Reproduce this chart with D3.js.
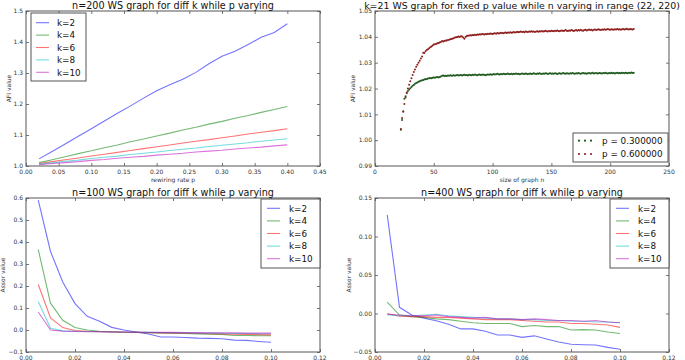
<!DOCTYPE html>
<html><head><meta charset="utf-8">
<script src="https://cdn.jsdelivr.net/npm/d3@7"></script>
<style>
html,body{margin:0;padding:0;background:#fff;}
svg{display:block;font-family:"DejaVu Sans",sans-serif;}
</style></head>
<body><svg id="c" width="685" height="360"></svg>
<script>
// ---------- DATA ----------
const kLabels = ["k=2","k=4","k=6","k=8","k=10"];
const kColors = ["#0000ff","#008000","#ff0000","#00bfbf","#bf00bf"];

// Panel 1: n=200, AFI vs rewiring rate p
const p200 = [0.02,0.04,0.06,0.08,0.10,0.12,0.14,0.16,0.18,0.20,0.22,0.24,0.26,0.28,0.30,0.32,0.34,0.36,0.38,0.40];
const afi200_k2  = [1.023,1.047,1.071,1.096,1.120,1.145,1.170,1.194,1.219,1.243,1.262,1.280,1.302,1.330,1.354,1.370,1.392,1.415,1.431,1.459];
const afi200_k4  = [1.011,1.020,1.030,1.040,1.049,1.059,1.068,1.078,1.087,1.097,1.106,1.116,1.125,1.135,1.144,1.154,1.163,1.173,1.182,1.192];
const afi200_k6  = [1.008,1.014,1.020,1.026,1.032,1.038,1.044,1.050,1.056,1.062,1.068,1.074,1.080,1.085,1.091,1.097,1.103,1.109,1.114,1.120];
const afi200_k8  = [1.006,1.010,1.015,1.019,1.024,1.028,1.032,1.037,1.041,1.045,1.050,1.054,1.058,1.063,1.067,1.071,1.075,1.080,1.084,1.088];
const afi200_k10 = [1.004,1.008,1.011,1.014,1.018,1.021,1.025,1.028,1.031,1.035,1.038,1.041,1.045,1.048,1.051,1.055,1.058,1.061,1.065,1.068];

// Panel 2: k=21, AFI vs size n (22..220)
const nStart = 22;
const afiP03 = [
1.0040,1.0078,1.0112,1.0160,1.0170,1.0182,1.0190,1.0196,1.0201,1.0206,
1.0211,1.0214,1.0218,1.0221,1.0223,1.0226,1.0228,1.0230,1.0232,1.0233,
1.0235,1.0237,1.0236,1.0239,1.0240,1.0241,1.0240,1.0242,1.0243,1.0242,
1.0244,1.0245,1.0243,1.0245,1.0246,1.0249,1.0250,1.0248,1.0249,1.0248,
1.0250,1.0249,1.0251,1.0249,1.0250,1.0251,1.0249,1.0251,1.0252,1.0250,
1.0251,1.0252,1.0250,1.0252,1.0253,1.0251,1.0252,1.0250,1.0253,1.0252,
1.0251,1.0253,1.0252,1.0254,1.0252,1.0251,1.0253,1.0254,1.0252,1.0253,
1.0254,1.0252,1.0251,1.0253,1.0254,1.0253,1.0255,1.0253,1.0254,1.0256,
1.0254,1.0255,1.0257,1.0255,1.0254,1.0256,1.0255,1.0257,1.0256,1.0255,
1.0256,1.0258,1.0255,1.0256,1.0257,1.0255,1.0257,1.0256,1.0258,1.0256,
1.0257,1.0255,1.0256,1.0258,1.0257,1.0256,1.0258,1.0257,1.0255,1.0257,
1.0258,1.0256,1.0257,1.0259,1.0257,1.0256,1.0258,1.0257,1.0259,1.0257,
1.0256,1.0258,1.0257,1.0259,1.0258,1.0256,1.0258,1.0259,1.0257,1.0258,
1.0257,1.0259,1.0258,1.0256,1.0258,1.0259,1.0257,1.0258,1.0260,1.0258,
1.0257,1.0259,1.0258,1.0257,1.0259,1.0258,1.0260,1.0258,1.0257,1.0259,
1.0258,1.0260,1.0258,1.0257,1.0259,1.0260,1.0258,1.0259,1.0257,1.0259,
1.0260,1.0258,1.0259,1.0261,1.0258,1.0259,1.0260,1.0258,1.0259,1.0260,
1.0259,1.0258,1.0260,1.0259,1.0261,1.0259,1.0258,1.0260,1.0259,1.0261,
1.0259,1.0260,1.0258,1.0260,1.0261,1.0259,1.0260,1.0259,1.0261,1.0260,
1.0259,1.0261,1.0260,1.0259,1.0261,1.0260,1.0262,1.0260,1.0261];
const afiP06 = [
1.0043,1.0086,1.0110,1.0140,1.0165,1.0185,1.0200,1.0215,1.0228,1.0240,
1.0252,1.0264,1.0274,1.0284,1.0292,1.0300,1.0307,1.0316,1.0324,1.0338,
1.0337,1.0344,1.0349,1.0352,1.0356,1.0360,1.0363,1.0366,1.0370,1.0371,
1.0372,1.0375,1.0376,1.0378,1.0380,1.0384,1.0382,1.0384,1.0386,1.0386,
1.0388,1.0389,1.0391,1.0392,1.0394,1.0395,1.0397,1.0398,1.0399,1.0401,
1.0399,1.0402,1.0401,1.0397,1.0393,1.0399,1.0403,1.0404,1.0405,1.0406,
1.0405,1.0407,1.0406,1.0408,1.0407,1.0409,1.0408,1.0410,1.0409,1.0411,
1.0410,1.0409,1.0411,1.0410,1.0412,1.0411,1.0413,1.0412,1.0411,1.0413,
1.0414,1.0412,1.0415,1.0413,1.0414,1.0416,1.0415,1.0414,1.0416,1.0417,
1.0415,1.0417,1.0416,1.0418,1.0416,1.0417,1.0419,1.0417,1.0418,1.0420,
1.0418,1.0419,1.0421,1.0419,1.0420,1.0418,1.0421,1.0420,1.0419,1.0421,
1.0420,1.0422,1.0420,1.0421,1.0419,1.0421,1.0422,1.0420,1.0422,1.0421,
1.0423,1.0421,1.0422,1.0424,1.0422,1.0421,1.0423,1.0422,1.0424,1.0423,
1.0422,1.0424,1.0423,1.0425,1.0423,1.0422,1.0424,1.0425,1.0423,1.0424,
1.0426,1.0424,1.0423,1.0425,1.0424,1.0426,1.0425,1.0423,1.0425,1.0426,
1.0424,1.0426,1.0425,1.0427,1.0425,1.0424,1.0426,1.0427,1.0425,1.0426,
1.0428,1.0426,1.0427,1.0425,1.0427,1.0428,1.0426,1.0427,1.0429,1.0427,
1.0426,1.0428,1.0427,1.0429,1.0427,1.0428,1.0430,1.0428,1.0427,1.0429,
1.0428,1.0427,1.0429,1.0428,1.0430,1.0428,1.0429,1.0427,1.0429,1.0430,
1.0428,1.0429,1.0431,1.0429,1.0428,1.0430,1.0429,1.0428,1.0430];
const scatterLabels = ["p = 0.300000","p = 0.600000"];
const scatterColors = ["#1f5a1f","#8f1f1f"];

// Panels 3 & 4: assortativity vs p
const pSmall = [0.005,0.010,0.015,0.020,0.025,0.030,0.035,0.040,0.045,0.050,0.055,0.060,0.065,0.070,0.075,0.080,0.085,0.090,0.095,0.100];
const as100_k2  = [0.590,0.357,0.218,0.120,0.062,0.040,0.012,0.000,-0.009,-0.018,-0.032,-0.032,-0.034,-0.037,-0.038,-0.040,-0.046,-0.047,-0.052,-0.056];
const as100_k4  = [0.366,0.122,0.044,0.011,0.000,-0.006,-0.008,-0.010,-0.011,-0.012,-0.013,-0.015,-0.016,-0.018,-0.019,-0.020,-0.025,-0.025,-0.026,-0.026];
const as100_k6  = [0.207,0.055,0.011,-0.002,-0.006,-0.008,-0.009,-0.010,-0.011,-0.012,-0.013,-0.014,-0.015,-0.016,-0.017,-0.018,-0.019,-0.020,-0.021,-0.022];
const as100_k8  = [0.130,0.008,-0.004,-0.006,-0.007,-0.008,-0.009,-0.010,-0.010,-0.011,-0.012,-0.012,-0.013,-0.014,-0.014,-0.015,-0.016,-0.016,-0.017,-0.017];
const as100_k10 = [0.082,0.000,-0.005,-0.007,-0.008,-0.008,-0.009,-0.009,-0.010,-0.010,-0.011,-0.011,-0.012,-0.012,-0.013,-0.013,-0.013,-0.014,-0.014,-0.014];

const as400_k2  = [0.128,0.008,-0.002,-0.006,-0.0095,-0.014,-0.020,-0.020,-0.023,-0.028,-0.028,-0.031,-0.029,-0.033,-0.037,-0.040,-0.0405,-0.041,-0.044,-0.0465];
const as400_k4  = [0.0147,-0.002,-0.004,-0.005,-0.007,-0.008,-0.010,-0.012,-0.013,-0.013,-0.013,-0.017,-0.0155,-0.017,-0.017,-0.0215,-0.021,-0.0215,-0.024,-0.026];
const as400_k6  = [0.000,-0.0035,-0.004,-0.004,-0.005,-0.005,-0.006,-0.007,-0.008,-0.008,-0.008,-0.009,-0.010,-0.011,-0.011,-0.013,-0.013,-0.014,-0.015,-0.018];
const as400_k8  = [-0.002,-0.003,-0.003,-0.002,-0.001,-0.003,-0.004,-0.005,-0.006,-0.007,-0.007,-0.008,-0.008,-0.009,-0.009,-0.010,-0.010,-0.011,-0.011,-0.012];
const as400_k10 = [-0.001,-0.002,-0.003,-0.003,-0.002,-0.004,-0.005,-0.006,-0.005,-0.007,-0.007,-0.008,-0.007,-0.008,-0.009,-0.009,-0.010,-0.009,-0.011,-0.012];

// Tick values
const ticksX1 = [0,0.05,0.10,0.15,0.20,0.25,0.30,0.35,0.40,0.45];
const ticksY1 = [1.0,1.1,1.2,1.3,1.4,1.5];
const ticksX2 = [0,50,100,150,200,250];
const ticksY2 = [0.99,1.00,1.01,1.02,1.03,1.04,1.05];
const ticksXs = [0,0.02,0.04,0.06,0.08,0.10,0.12];
const ticksY3 = [-0.1,0,0.1,0.2,0.3,0.4,0.5,0.6];
const ticksY4 = [-0.05,0,0.05,0.10,0.15];

// ---------- DRAW ----------
const svg = d3.select("#c");
const FRAME = "#555";

function axesBox(o){
  const g = svg.append("g");
  const x = d3.scaleLinear().domain(o.xd).range([o.l,o.r]);
  const y = d3.scaleLinear().domain(o.yd).range([o.b,o.t]);
  const tl = 3;
  g.append("g").attr("transform",`translate(0,${o.b})`)
    .call(d3.axisTop(x).tickValues(o.xt).tickSize(tl).tickFormat(""));
  g.append("g").attr("transform",`translate(0,${o.t})`)
    .call(d3.axisBottom(x).tickValues(o.xt).tickSize(tl).tickFormat(""));
  g.append("g").attr("transform",`translate(${o.l},0)`)
    .call(d3.axisRight(y).tickValues(o.yt).tickSize(tl).tickFormat(""));
  g.append("g").attr("transform",`translate(${o.r},0)`)
    .call(d3.axisLeft(y).tickValues(o.yt).tickSize(tl).tickFormat(""));
  g.selectAll(".domain").remove();
  g.selectAll(".tick line").attr("stroke",FRAME).attr("stroke-width",0.8);
  g.selectAll(".xl").data(o.xt).join("text")
    .attr("x",d=>x(d)).attr("y",o.b+8).attr("text-anchor","middle")
    .attr("font-size",6).attr("fill","#333").text(o.xf);
  g.selectAll(".yl").data(o.yt).join("text")
    .attr("x",o.l-3).attr("y",d=>y(d)+2.2).attr("text-anchor","end")
    .attr("font-size",6).attr("fill","#333").text(o.yf);
  g.append("rect").attr("x",o.l).attr("y",o.t).attr("width",o.r-o.l).attr("height",o.b-o.t)
    .attr("fill","none").attr("stroke",FRAME).attr("stroke-width",1);
  svg.append("text").attr("x",(o.l+o.r)/2).attr("y",o.t-2).attr("text-anchor","middle")
    .attr("font-size",o.tfs||9.6).attr("fill","#111").text(o.title);
  svg.append("text").attr("transform",`translate(${o.ylx},${(o.t+o.b)/2}) rotate(-90)`)
    .attr("text-anchor","middle").attr("font-size",6).attr("fill","#333").text(o.ylabel);
  if(o.xlabel){
    svg.append("text").attr("x",(o.l+o.r)/2).attr("y",o.b+15.5).attr("text-anchor","middle")
      .attr("font-size",6).attr("fill","#333").text(o.xlabel);
  }
  return {x,y,g};
}

function drawLines(ax, xs, series){
  const line = d3.line().x((d,i)=>ax.x(xs[i])).y(d=>ax.y(d));
  series.forEach((s,i)=>{
    svg.append("path").datum(s).attr("d",line).attr("fill","none")
      .attr("stroke",kColors[i]).attr("stroke-opacity",0.55).attr("stroke-width",1.1);
  });
}

function lineLegend(lx,ly,w,h,rowY0,dy,lineX0,textX){
  svg.append("rect").attr("x",lx).attr("y",ly).attr("width",w).attr("height",h)
    .attr("fill","#fff").attr("stroke",FRAME).attr("stroke-width",1);
  kLabels.forEach((lab,i)=>{
    const yy = ly+rowY0+i*dy;
    svg.append("line").attr("x1",lx+lineX0).attr("x2",lx+lineX0+13).attr("y1",yy).attr("y2",yy)
      .attr("stroke",kColors[i]).attr("stroke-opacity",0.55).attr("stroke-width",1.1);
    svg.append("text").attr("x",lx+textX).attr("y",yy+3.2).attr("font-size",8.8)
      .attr("fill","#111").text(lab);
  });
}

const f1 = d3.format(".1f"), f2 = d3.format(".2f");
// Panel 1
const ax1 = axesBox({l:26,r:320,t:11,b:166,xd:[0,0.45],yd:[1.0,1.5],xt:ticksX1,yt:ticksY1,
  xf:f2,yf:f1,title:"n=200 WS graph for diff k while p varying",ylabel:"AFI value",ylx:11,xlabel:"rewiring rate p"});
drawLines(ax1,p200,[afi200_k2,afi200_k4,afi200_k6,afi200_k8,afi200_k10]);
lineLegend(31,13,55,68,9.7,12.4,5,26);

// Panel 2
const ax2 = axesBox({l:375,r:669,t:11,b:166,xd:[0,250],yd:[0.99,1.05],xt:ticksX2,yt:ticksY2,
  xf:d3.format("d"),yf:f2,title:"k=21 WS graph for fixed p value while n varying in range (22, 220)",tfs:9.4,ylabel:"AFI value",ylx:355,xlabel:"size of graph n"});
[afiP03,afiP06].forEach((arr,si)=>{
  svg.append("g").selectAll("circle").data(arr).join("circle")
    .attr("cx",(d,i)=>ax2.x(nStart+i)).attr("cy",d=>ax2.y(d)).attr("r",1.0)
    .attr("fill",scatterColors[si]);
});
svg.append("rect").attr("x",573).attr("y",133).attr("width",95).attr("height",29)
  .attr("fill","#fff").attr("stroke",FRAME).attr("stroke-width",1);
scatterLabels.forEach((lab,i)=>{
  const yy = 140.7+i*13.3;
  [579,585,591].forEach(xx=>{
    svg.append("circle").attr("cx",xx).attr("cy",yy).attr("r",1.1).attr("fill",scatterColors[i]);
  });
  svg.append("text").attr("x",602).attr("y",yy+3.2).attr("font-size",8.8).attr("fill","#111").text(lab);
});

// Panel 3
const ax3 = axesBox({l:26,r:320,t:198,b:352,xd:[0,0.12],yd:[-0.1,0.6],xt:ticksXs,yt:ticksY3,
  xf:f2,yf:f1,title:"n=100 WS graph for diff k while p varying",ylabel:"Assor value",ylx:5});
drawLines(ax3,pSmall,[as100_k2,as100_k4,as100_k6,as100_k8,as100_k10]);
lineLegend(261,199,59,69,9.3,12.6,6,28);

// Panel 4
const ax4 = axesBox({l:375,r:669,t:198,b:352,xd:[0,0.12],yd:[-0.05,0.15],xt:ticksXs,yt:ticksY4,
  xf:f2,yf:f2,title:"n=400 WS graph for diff k while p varying",ylabel:"Assor value",ylx:351});
drawLines(ax4,pSmall,[as400_k2,as400_k4,as400_k6,as400_k8,as400_k10]);
lineLegend(610,199,59,69,9.3,12.6,6,28);
</script></body></html>
